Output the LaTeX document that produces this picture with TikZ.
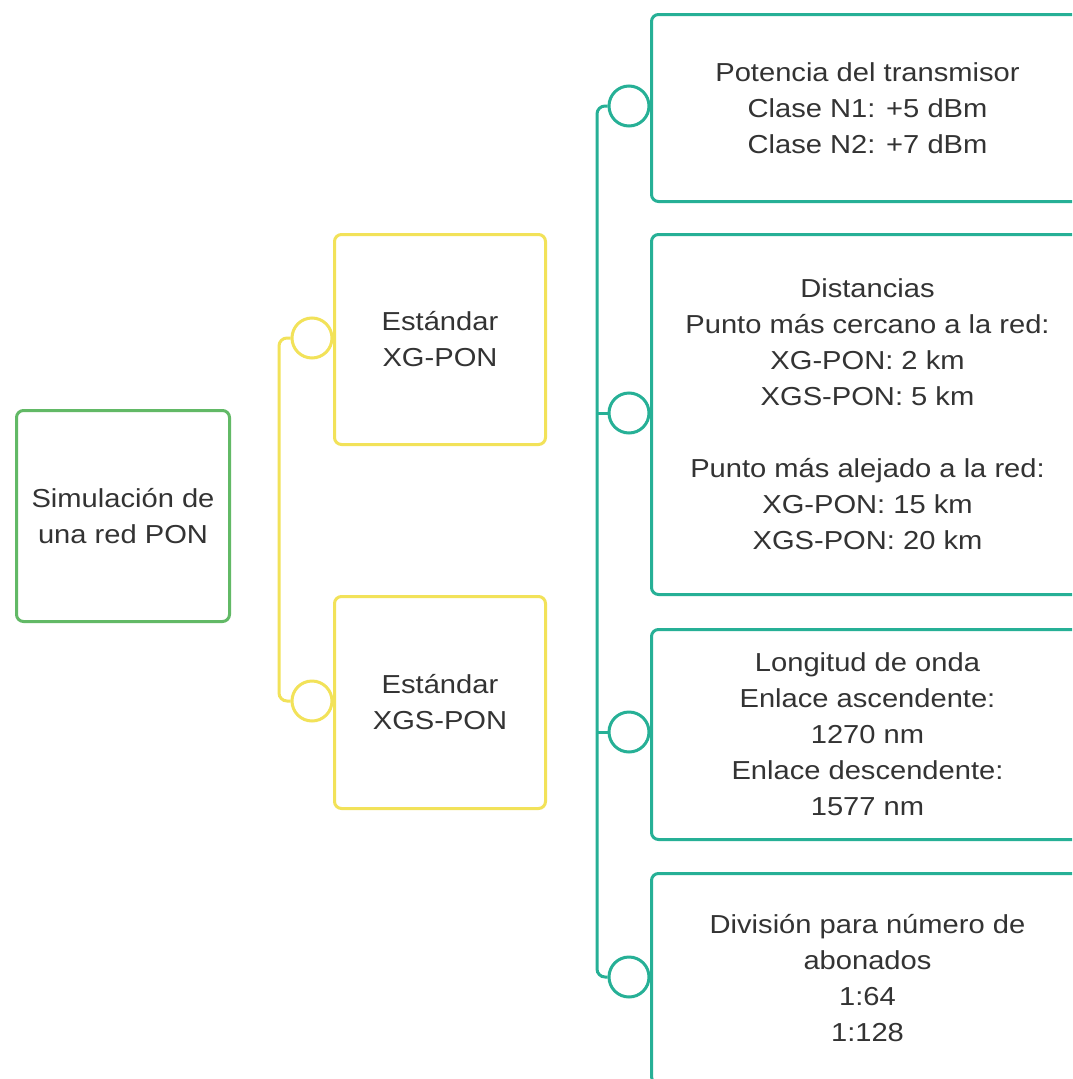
\documentclass[tikz,border=0pt]{standalone}
\usepackage{fontspec}
\setmainfont[FakeStretch=1.12]{Liberation Sans}
\definecolor{txtgray}{HTML}{333333}
\definecolor{rootgreen}{HTML}{62B966}
\definecolor{stdyellow}{HTML}{F2E259}
\definecolor{parteal}{HTML}{26B096}
\tikzset{
  box/.style={draw, line width=3pt, rounded corners=7pt, fill=white,
    inner sep=0pt, anchor=north west, align=center, text=txtgray,
    font=\fontsize{26}{36}\selectfont},
  rootbox/.style={box, draw=rootgreen},
  stdbox/.style={box, draw=stdyellow, minimum width=211pt},
  parbox/.style={box, draw=parteal, minimum width=432pt},
  knob/.style={draw, circle, line width=3pt, fill=white, inner sep=0pt,
    minimum size=40pt},
  ylink/.style={draw=stdyellow, line width=3pt, rounded corners=8pt},
  tlink/.style={draw=parteal, line width=3pt, rounded corners=8pt},
}
\begin{document}
\begin{tikzpicture}[x=1pt,y=-1pt]
\useasboundingbox (0,0) rectangle (1072,1079);
\fill[white] (0,0) rectangle (1072,1079);
\clip (0,0) rectangle (1072,1079);

% root
\node[rootbox, minimum width=213pt, minimum height=211pt] (root) at (15,409)
  {Simulación de\\una red PON};

% standards
\node[stdbox, minimum height=210pt] (std1) at (333,233) {Estándar\\XG-PON};
\node[stdbox, minimum height=212pt] (std2) at (333,595) {Estándar\\XGS-PON};

% parameters
\node[parbox, minimum height=187pt] (p1) at (650,13)
  {Potencia del transmisor\\Clase N1: +5 dBm\\Clase N2: +7 dBm};
\node[parbox, minimum height=360pt] (p2) at (650,233)
  {Distancias\\Punto más cercano a la red:\\XG-PON: 2 km\\XGS-PON: 5 km\\[36pt]
   Punto más alejado a la red:\\XG-PON: 15 km\\XGS-PON: 20 km};
\node[parbox, minimum height=210pt] (p3) at (650,628)
  {Longitud de onda\\Enlace ascendente:\\1270 nm\\Enlace descendente:\\1577 nm};
\node[parbox, minimum height=210pt] (p4) at (650,872)
  {División para número de\\abonados\\1:64\\1:128};

% connector knobs
\node[knob, draw=stdyellow] (yc1) at (312,338) {};
\node[knob, draw=stdyellow] (yc2) at (312,701) {};
\node[knob, draw=parteal] (tc1) at (629,106) {};
\node[knob, draw=parteal] (tc2) at (629,413) {};
\node[knob, draw=parteal] (tc3) at (629,732) {};
\node[knob, draw=parteal] (tc4) at (629,977) {};

% buses
\coordinate (ybus) at (279,0);
\coordinate (tbus) at (597,0);
\draw[ylink] (yc1.west) -- (yc1.west -| ybus) -- (yc2.west -| ybus) -- (yc2.west);
\draw[tlink] (tc1.west) -- (tc1.west -| tbus) -- (tc4.west -| tbus) -- (tc4.west);
\draw[tlink] (tc2.west) -- (tc2.west -| tbus);
\draw[tlink] (tc3.west) -- (tc3.west -| tbus);
\end{tikzpicture}
\end{document}
